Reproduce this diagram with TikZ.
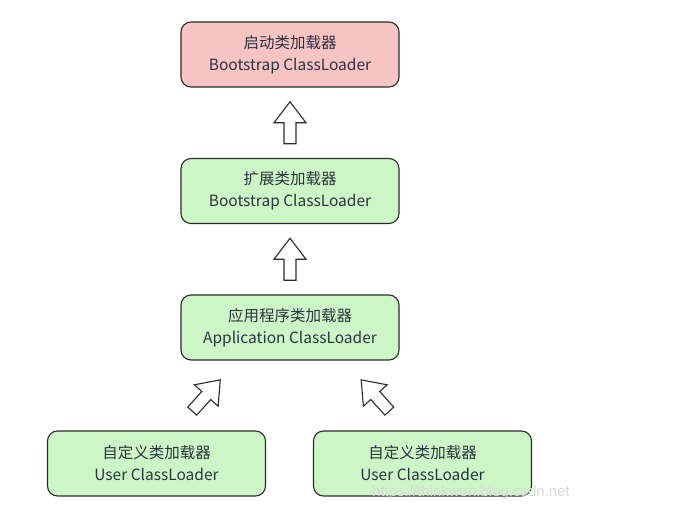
\documentclass[tikz,border=0pt]{standalone}
\usepackage{fontspec}
\setmainfont{Noto Sans CJK SC}
\newfontfamily\wmfont{Liberation Sans}
\usetikzlibrary{calc}
\definecolor{pinkfill}{HTML}{F6C4C3}
\definecolor{greenfill}{HTML}{CDF6C6}
\definecolor{edge}{HTML}{2B2B2B}
\definecolor{txt}{HTML}{2C3342}
\tikzset{
  loader/.style={draw=edge, line width=1.1pt, rounded corners=10pt,
    minimum width=218pt, minimum height=65pt, align=center,
    font=\fontsize{15.5}{22}\selectfont, text=txt},
  hollowarrow/.pic={\draw[edge, line width=1.1pt, line join=miter, fill=white]
    (-6,-21) -- (-6,0) -- (-16,0) -- (0,21) -- (16,0) -- (6,0) -- (6,-21) -- cycle;}
}
\begin{document}
\begin{tikzpicture}[x=1pt,y=1pt]
\useasboundingbox (0,0) rectangle (675,530);
\node[loader, fill=pinkfill] (boot) at (290,475.5) {启动类加载器\\Bootstrap ClassLoader};
\node[loader, fill=greenfill] (ext) at (290,339) {扩展类加载器\\Bootstrap ClassLoader};
\node[loader, fill=greenfill] (app) at (290,202.5) {应用程序类加载器\\Application ClassLoader};
\node[loader, fill=greenfill] (user1) at (156.5,66.5) {自定义类加载器\\User ClassLoader};
\node[loader, fill=greenfill] (user2) at (422.5,66.5) {自定义类加载器\\User ClassLoader};
\pic at ($(ext.north)!0.5!(boot.south)$) {hollowarrow};
\pic at ($(app.north)!0.5!(ext.south)$) {hollowarrow};
\pic[rotate=-42] at ($(user1.north)!0.5!(app.south)+(-17,0)$) {hollowarrow};
\pic[rotate=42] at ($(user2.north)!0.5!(app.south)+(19,0)$) {hollowarrow};
\node[font=\wmfont\fontsize{15}{15}\selectfont, text=gray!30] (wm) at (471,37) {https://thinkwon.blog.csdn.net};
\end{tikzpicture}
\end{document}
